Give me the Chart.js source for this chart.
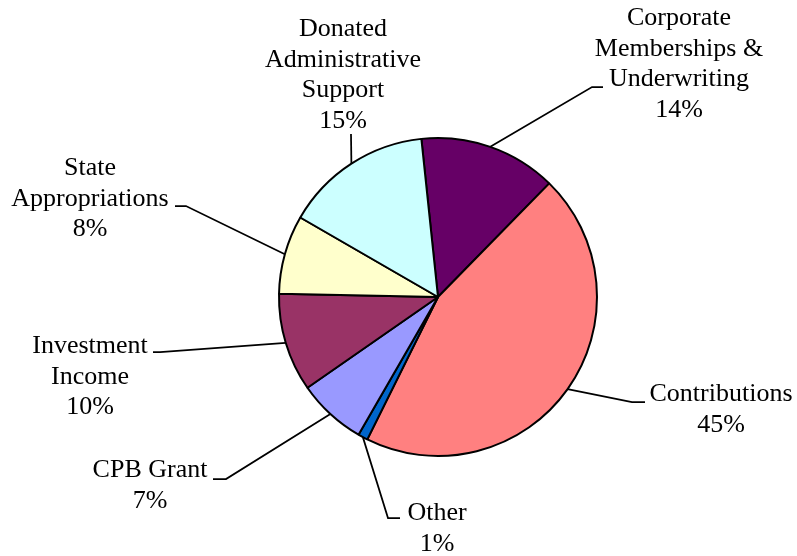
<!DOCTYPE html>
<html>
<head>
<meta charset="utf-8">
<script src="https://cdn.jsdelivr.net/npm/chart.js@4"></script>
<style>
  body { margin: 0; background: #fff; }
  #wrap { width: 797px; height: 556px; }
</style>
</head>
<body>
<div id="wrap"><canvas id="fundingChart"></canvas></div>
<script>
const labels = [
    'Corporate Memberships & Underwriting',
    'Contributions',
    'Other',
    'CPB Grant',
    'Investment Income',
    'State Appropriations',
    'Donated Administrative Support'
];
const percents = [14, 45, 1, 7, 10, 8, 15];
const labelLines = [
    ['Corporate', 'Memberships &', 'Underwriting'],
    ['Contributions'],
    ['Other'],
    ['CPB Grant'],
    ['Investment', 'Income'],
    ['State', 'Appropriations'],
    ['Donated', 'Administrative', 'Support']
];
const colors = ['#660066', '#FF8080', '#0066CC', '#9999FF', '#993366', '#FFFFCC', '#CCFFFF'];

// where each label block sits and how its leader line bends (canvas px)
const labelLayout = [
    { x: 679, y: 25, path: [[592, 87], [603, 87]] },
    { x: 721, y: 401, path: [[632, 402], [645, 402]] },
    { x: 437, y: 520, path: [[388, 518], [400, 518]] },
    { x: 150, y: 477, path: [[226, 479], [213, 479]] },
    { x: 90, y: 353, path: [[160, 352], [153, 352]] },
    { x: 90, y: 175, path: [[186, 206], [175, 206]] },
    { x: 343, y: 36, path: [[351, 134]] }
];
const lineHeight = 30.5;

const outsideLabels = {
    id: 'outsideLabels',
    afterDraw(chart) {
        const ctx = chart.ctx;
        const arcs = chart.getDatasetMeta(0).data;
        ctx.save();
        ctx.strokeStyle = '#000';
        ctx.lineWidth = 1.75;
        ctx.fillStyle = '#000';
        ctx.font = '26px "Liberation Serif", "Times New Roman", serif';
        ctx.textAlign = 'center';
        ctx.textBaseline = 'alphabetic';
        arcs.forEach((arc, i) => {
            const p = arc.getProps(['x', 'y', 'startAngle', 'endAngle', 'outerRadius'], true);
            const mid = (p.startAngle + p.endAngle) / 2;
            const r = p.outerRadius;
            const lay = labelLayout[i];
            ctx.beginPath();
            ctx.moveTo(p.x + Math.cos(mid) * r, p.y + Math.sin(mid) * r);
            lay.path.forEach(pt => ctx.lineTo(pt[0], pt[1]));
            ctx.stroke();
            const lines = labelLines[i].concat([percents[i] + '%']);
            lines.forEach((t, k) => ctx.fillText(t, lay.x, lay.y + k * lineHeight));
        });
        ctx.restore();
    }
};

const config = {
    type: 'pie',
    data: {
        labels: labels,
        datasets: [{
            data: percents,
            backgroundColor: colors,
            borderColor: '#000',
            borderWidth: 2,
            hoverBorderWidth: 2
        }]
    },
    options: {
        responsive: true,
        maintainAspectRatio: false,
        animation: false,
        rotation: -6,
        layout: {
            padding: { left: 278, right: 199, top: 137, bottom: 99 }
        },
        plugins: {
            legend: { display: false },
            tooltip: { enabled: false }
        }
    },
    plugins: [outsideLabels]
};

new Chart(document.getElementById('fundingChart'), config);
</script>
</body>
</html>
